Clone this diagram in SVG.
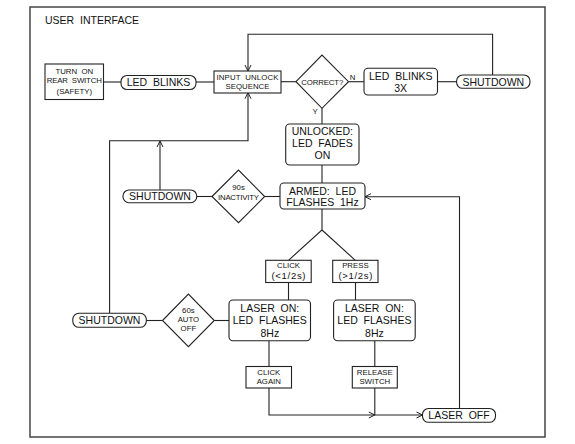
<svg xmlns="http://www.w3.org/2000/svg" width="575" height="444" viewBox="0 0 575 444" xml:space="preserve">
<defs>
<marker id="arr" viewBox="0 0 8 8" refX="7" refY="4" markerWidth="8" markerHeight="8" markerUnits="userSpaceOnUse" orient="auto">
<path d="M1,1 L7,4 L1,7" fill="none" stroke="#222" stroke-width="1"/>
</marker>
<style>
.b{fill:#fff;stroke:#222;stroke-width:1.1}
.c{fill:none;stroke:#222;stroke-width:1.1}
text{font-family:"Liberation Sans",Arial,sans-serif;fill:#111;text-anchor:middle;white-space:pre}
.l{font-size:10.5px}
.s{font-size:7.8px}
.m{font-size:9.5px}
</style>
</defs>
<rect x="0" y="0" width="575" height="444" fill="#fff"/>
<rect x="30" y="7" width="515" height="430" fill="none" stroke="#444" stroke-width="1.5"/>
<text class="l" x="45" y="24" style="text-anchor:start" textLength="94">USER  INTERFACE</text>

<g id="connectors">
<path class="c" d="M103,82 H121"/>
<path class="c" d="M196,82 H214"/>
<path class="c" d="M281,81.7 H296"/>
<path class="c" d="M348.5,81.7 H364"/>
<path class="c" d="M437.5,81.7 H456.6"/>
<path class="c" d="M492.6,75 V34.3 H248 V71" marker-end="url(#arr)"/>
<path class="c" d="M322,108.3 V124"/>
<path class="c" d="M322,165 V183"/>
<path class="c" d="M280,196.5 H264.7"/>
<path class="c" d="M212,196.5 H196.7"/>
<path class="c" d="M160,190 V141" marker-end="url(#arr)"/>
<path class="c" d="M109.6,313.3 V140.7 H248 V92.7" marker-end="url(#arr)"/>
<path class="c" d="M322,209 V230 L288.5,260.3"/>
<path class="c" d="M322,230 L355.3,260.3"/>
<path class="c" d="M288.5,282.5 V300"/>
<path class="c" d="M355.5,282.5 V300"/>
<path class="c" d="M229,320.5 H214.3"/>
<path class="c" d="M162.5,320.5 H146.3"/>
<path class="c" d="M269,340.7 V366.5"/>
<path class="c" d="M374.8,340.7 V366.5"/>
<path class="c" d="M269,388 V415 H374.8" marker-end="url(#arr)"/>
<path class="c" d="M374.8,388 V415 H422.5" marker-end="url(#arr)"/>
<path class="c" d="M459.5,408.5 V196.7 H365" marker-end="url(#arr)"/>
<text class="s" x="352.5" y="80">N</text>
<text class="s" x="315" y="114">Y</text>
</g>

<g id="turn-on">
<rect class="b" x="45" y="64" width="58.5" height="35.5"/>
<text class="s" x="74.3" y="74">TURN  ON</text>
<text class="s" x="74.3" y="83.3" textLength="55">REAR  SWITCH</text>
<text class="s" x="74.3" y="93.5">(SAFETY)</text>
</g>

<g id="led-blinks">
<rect class="b" x="121" y="75.5" width="75" height="14" rx="6"/>
<text class="l" x="158.5" y="86.3">LED  BLINKS</text>
</g>

<g id="input-unlock">
<rect class="b" x="214" y="71" width="67" height="22"/>
<text class="s" x="247.5" y="80" textLength="62">INPUT  UNLOCK</text>
<text class="s" x="247.5" y="89.3">SEQUENCE</text>
</g>

<g id="correct">
<polygon class="b" points="296,81.7 322,55 348.5,81.7 322,108.3"/>
<text class="s" x="322.3" y="84.5" textLength="42">CORRECT?</text>
</g>

<g id="led-blinks-3x">
<rect class="b" x="364" y="68.3" width="73.5" height="26.7" rx="4"/>
<text class="l" x="400.7" y="79.7">LED  BLINKS</text>
<text class="l" x="400.7" y="92.4">3X</text>
</g>

<g id="shutdown-top">
<rect class="b" x="456.6" y="75" width="73.4" height="13.3" rx="6"/>
<text class="l" x="493.3" y="85.5">SHUTDOWN</text>
</g>

<g id="unlocked">
<rect class="b" x="285.7" y="124" width="73.3" height="41" rx="4"/>
<text class="l" x="322.4" y="134.8">UNLOCKED:</text>
<text class="l" x="322.4" y="147">LED  FADES</text>
<text class="l" x="322.4" y="159.2">ON</text>
</g>

<g id="armed">
<rect class="b" x="280" y="183" width="85" height="26" rx="4"/>
<text class="l" x="322.5" y="194.5">ARMED:  LED</text>
<text class="l" x="322.5" y="206.2">FLASHES  1Hz</text>
</g>

<g id="inactivity">
<polygon class="b" points="212,196.5 238.5,170 264.7,196.5 238.5,222.7"/>
<text class="s" x="238.5" y="190">90s</text>
<text class="s" x="238.5" y="199.5" textLength="41">INACTIVITY</text>
</g>

<g id="shutdown-mid">
<rect class="b" x="123" y="190" width="73.7" height="12.7" rx="6"/>
<text class="l" x="160" y="200">SHUTDOWN</text>
</g>

<g id="click">
<rect class="b" x="265.7" y="260.3" width="45.5" height="22.2"/>
<text class="s" x="288.5" y="267.9">CLICK</text>
<text class="m" x="288.5" y="279.2" textLength="34">(&lt;1/2s)</text>
</g>

<g id="press">
<rect class="b" x="332.7" y="260.3" width="45.3" height="22.2"/>
<text class="s" x="355.4" y="267.9">PRESS</text>
<text class="m" x="355.4" y="279.2" textLength="34">(&gt;1/2s)</text>
</g>

<g id="laser-on-1">
<rect class="b" x="229" y="300" width="81.5" height="40.7" rx="4"/>
<text class="l" x="269.8" y="311.8">LASER  ON:</text>
<text class="l" x="269.8" y="324.4">LED  FLASHES</text>
<text class="l" x="269.8" y="336.5">8Hz</text>
</g>

<g id="laser-on-2">
<rect class="b" x="333.6" y="300" width="81.6" height="40.7" rx="4"/>
<text class="l" x="374.4" y="311.8">LASER  ON:</text>
<text class="l" x="374.4" y="324.4">LED  FLASHES</text>
<text class="l" x="374.4" y="336.5">8Hz</text>
</g>

<g id="auto-off">
<polygon class="b" points="162.5,320.5 188.4,294 214.3,320.5 188.4,346.7"/>
<text class="s" x="188.4" y="312.7">60s</text>
<text class="s" x="188.4" y="322">AUTO</text>
<text class="s" x="188.4" y="331.4">OFF</text>
</g>

<g id="shutdown-bottom">
<rect class="b" x="72.8" y="313.3" width="73.5" height="14" rx="6"/>
<text class="l" x="109.5" y="324">SHUTDOWN</text>
</g>

<g id="click-again">
<rect class="b" x="246" y="366.5" width="45.5" height="21.5"/>
<text class="s" x="268.8" y="375.4">CLICK</text>
<text class="s" x="268.8" y="384.4">AGAIN</text>
</g>

<g id="release-switch">
<rect class="b" x="352.3" y="366.5" width="45" height="21.5"/>
<text class="s" x="374.8" y="375.4">RELEASE</text>
<text class="s" x="374.8" y="384.4">SWITCH</text>
</g>

<g id="laser-off">
<rect class="b" x="422.5" y="408.5" width="73" height="13.8" rx="6"/>
<text class="l" x="459" y="419.2">LASER  OFF</text>
</g>
</svg>
